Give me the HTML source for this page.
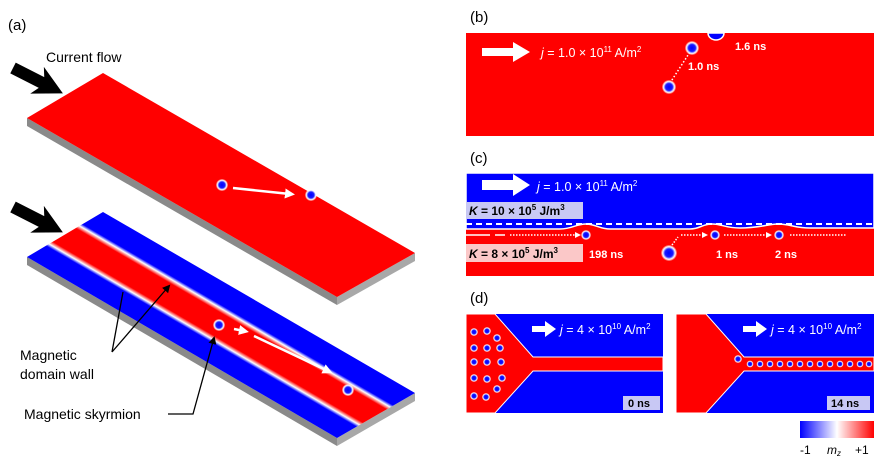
<!DOCTYPE html>
<html><head><meta charset="utf-8"><style>
html,body{margin:0;padding:0;background:#fff;}
svg{display:block;font-family:"Liberation Sans",Arial,sans-serif;}
</style></head><body>
<svg width="877" height="457" viewBox="0 0 877 457" xmlns="http://www.w3.org/2000/svg">
<defs>
<linearGradient id="stripe" gradientUnits="userSpaceOnUse" x1="27" y1="257" x2="65.9" y2="190.3">
<stop offset="0" stop-color="#0000ff"/><stop offset="0.25" stop-color="#0000ff"/>
<stop offset="0.29" stop-color="#fff"/><stop offset="0.34" stop-color="#ff0000"/>
<stop offset="0.64" stop-color="#ff0000"/><stop offset="0.69" stop-color="#fff"/>
<stop offset="0.73" stop-color="#0000ff"/><stop offset="1" stop-color="#0000ff"/>
</linearGradient>
<radialGradient id="sk"><stop offset="0" stop-color="#0000ff"/><stop offset="0.5" stop-color="#1a1aff"/><stop offset="0.78" stop-color="#fff"/><stop offset="1" stop-color="#fff" stop-opacity="0.2"/></radialGradient>
<linearGradient id="cb" x1="0" x2="1"><stop offset="0" stop-color="#0000ff"/><stop offset="0.5" stop-color="#fff"/><stop offset="1" stop-color="#ff0000"/></linearGradient>
<marker id="wa" markerWidth="4" markerHeight="4" refX="2" refY="2" orient="auto"><path d="M0,0L4,2L0,4z" fill="#fff"/></marker>
<marker id="ba" markerWidth="8" markerHeight="8" refX="6" refY="4" orient="auto" markerUnits="userSpaceOnUse"><path d="M0,0L8,4L0,8z" fill="#000"/></marker>
</defs>
<!-- panel a -->
<text x="8" y="30" font-size="15">(a)</text>
<text x="46" y="62" font-size="14">Current flow</text>
<path d="M0,-6 L32,-6 L27,-15 L56,0 L27,15 L32,6 L0,6Z" fill="#000" transform="translate(13,68) rotate(27)"/>
<path d="M27,118 L337,297 L337,305 L27,126Z" fill="#8a8a8a"/>
<path d="M337,297 L415,253 L415,261 L337,305Z" fill="#a8a8a8"/>
<path d="M27,118 L103,73 L415,253 L337,297Z" fill="#ff0000"/>
<circle cx="222" cy="185" r="6" fill="url(#sk)"/>
<circle cx="311" cy="195" r="6" fill="url(#sk)"/>
<line x1="233" y1="188" x2="290" y2="194" stroke="#fff" stroke-width="2.5" marker-end="url(#wa)"/>
<path d="M0,-6 L32,-6 L27,-15 L56,0 L27,15 L32,6 L0,6Z" fill="#000" transform="translate(13,207) rotate(27)"/>
<path d="M27,257 L337,438 L337,446 L27,265Z" fill="#8a8a8a"/>
<path d="M337,438 L415,393 L415,401 L337,446Z" fill="#a8a8a8"/>
<path d="M27,257 L103,212 L415,393 L337,438Z" fill="url(#stripe)"/>
<circle cx="219" cy="325" r="6" fill="url(#sk)"/>
<circle cx="348" cy="390" r="6" fill="url(#sk)"/>
<line x1="234" y1="329" x2="244" y2="331" stroke="#fff" stroke-width="2.5" marker-end="url(#wa)"/>
<line x1="254" y1="336" x2="328" y2="371" stroke="#fff" stroke-width="2.5" marker-end="url(#wa)"/>
<path d="M112,352 L123,292 M112,352 L169,286" stroke="#000" stroke-width="1.3" fill="none" marker-end="url(#ba)"/>
<path d="M168,414 L193,414 L214,338" stroke="#000" stroke-width="1.3" fill="none" marker-end="url(#ba)"/>
<text x="20" y="360" font-size="14">Magnetic</text>
<text x="20" y="379" font-size="14">domain wall</text>
<text x="24" y="419" font-size="14">Magnetic skyrmion</text>
<!-- panel b -->
<text x="470" y="22" font-size="15">(b)</text>
<rect x="466" y="33" width="408" height="103" fill="#ff0000"/>
<path d="M482,48 L513,48 L513,42 L530,52 L513,62 L513,56 L482,56Z" fill="#fff"/>
<text x="541" y="57" font-size="12.5" fill="#fff"><tspan font-style="italic">j</tspan> = 1.0 × 10<tspan font-size="8" dy="-5">11</tspan><tspan dy="5"> A/m</tspan><tspan font-size="8" dy="-5">2</tspan></text>
<line x1="670" y1="83" x2="690" y2="52" stroke="#fff" stroke-width="1.5" stroke-dasharray="1.5,2"/>
<circle cx="669" cy="87" r="7" fill="url(#sk)"/>
<circle cx="692" cy="48" r="7" fill="url(#sk)"/>
<path d="M708,33 A8,7 0 0 0 724,33Z" fill="#0000ff" stroke="#fff" stroke-width="1.5"/>
<text x="688" y="70" font-size="11" font-weight="bold" fill="#fff">1.0 ns</text>
<text x="735" y="50" font-size="11" font-weight="bold" fill="#fff">1.6 ns</text>
<!-- panel c -->
<text x="470" y="163" font-size="15">(c)</text>
<rect x="466" y="173" width="408" height="103" fill="#ff0000"/>
<path d="M466,173 L874,173 L874,228 L810,228 C795,228 790,224 778,224 C768,224 760,228 740,228 C725,228 722,224 712,224 C702,224 700,229 690,229 L610,229 C600,229 595,224 586,224 C576,224 572,229 560,229 L466,229Z" fill="#0000ff" stroke="#fff" stroke-width="1.5"/>
<line x1="466" y1="224" x2="874" y2="224" stroke="#fff" stroke-width="2" stroke-dasharray="6,4"/>
<path d="M482,180 L513,180 L513,174 L530,185 L513,196 L513,190 L482,190Z" fill="#fff"/>
<text x="537" y="191" font-size="12.5" fill="#fff"><tspan font-style="italic">j</tspan> = 1.0 × 10<tspan font-size="8" dy="-5">11</tspan><tspan dy="5"> A/m</tspan><tspan font-size="8" dy="-5">2</tspan></text>
<rect x="466" y="202" width="117" height="17" fill="#c8c8f4"/>
<text x="469" y="215" font-size="12" font-weight="bold"><tspan font-style="italic">K</tspan> = 10 × 10<tspan font-size="8" dy="-5">5</tspan><tspan dy="5"> J/m</tspan><tspan font-size="8" dy="-5">3</tspan></text>
<rect x="466" y="244" width="117" height="18" fill="#fbc8c8"/>
<text x="469" y="258" font-size="12" font-weight="bold"><tspan font-style="italic">K</tspan> = 8 × 10<tspan font-size="8" dy="-5">5</tspan><tspan dy="5"> J/m</tspan><tspan font-size="8" dy="-5">3</tspan></text>
<line x1="466" y1="235" x2="490" y2="235" stroke="#fff" stroke-width="1.5"/>
<line x1="495" y1="235" x2="505" y2="235" stroke="#fff" stroke-width="1.5"/>
<line x1="510" y1="235" x2="578" y2="235" stroke="#fff" stroke-width="1.5" stroke-dasharray="1.5,1.5" marker-end="url(#wa)"/>
<line x1="681" y1="235" x2="705" y2="235" stroke="#fff" stroke-width="1.5" stroke-dasharray="1.5,1.5" marker-end="url(#wa)"/>
<line x1="672" y1="245" x2="678" y2="237" stroke="#fff" stroke-width="1.5" stroke-dasharray="1.5,1.5"/>
<line x1="724" y1="235" x2="769" y2="235" stroke="#fff" stroke-width="1.5" stroke-dasharray="1.5,1.5" marker-end="url(#wa)"/>
<line x1="790" y1="235" x2="846" y2="235" stroke="#fff" stroke-width="1.5" stroke-dasharray="1.5,1.5"/>
<circle cx="586" cy="235" r="5" fill="url(#sk)"/>
<circle cx="715" cy="235" r="5" fill="url(#sk)"/>
<circle cx="779" cy="235" r="5" fill="url(#sk)"/>
<circle cx="669" cy="253" r="8" fill="url(#sk)"/>
<text x="589" y="258" font-size="11" font-weight="bold" fill="#fff">198 ns</text>
<text x="716" y="258" font-size="11" font-weight="bold" fill="#fff">1 ns</text>
<text x="775" y="258" font-size="11" font-weight="bold" fill="#fff">2 ns</text>
<!-- panel d -->
<text x="470" y="303" font-size="15">(d)</text>
<rect x="466" y="314" width="197" height="99" fill="#0000ff"/>
<path d="M466,314 L495,314 L533,357 L663,357 L663,371 L533,371 L495,413 L466,413Z" fill="#ff0000" stroke="#fff" stroke-width="1"/>
<rect x="676" y="314" width="198" height="99" fill="#0000ff"/>
<path d="M676,314 L706,314 L744,357 L874,357 L874,371 L744,371 L706,413 L676,413Z" fill="#ff0000" stroke="#fff" stroke-width="1"/>
<g fill="url(#sk)">
<circle cx="474" cy="332" r="4"/><circle cx="487" cy="331" r="4"/><circle cx="497" cy="338" r="4"/>
<circle cx="474" cy="348" r="4"/><circle cx="487" cy="348" r="4"/><circle cx="500" cy="348" r="4"/>
<circle cx="474" cy="362" r="4"/><circle cx="487" cy="362" r="4"/><circle cx="501" cy="362" r="4"/>
<circle cx="474" cy="378" r="4"/><circle cx="487" cy="379" r="4"/><circle cx="502" cy="378" r="4"/>
<circle cx="474" cy="396" r="4"/><circle cx="486" cy="397" r="4"/><circle cx="497" cy="389" r="4"/>
<circle cx="738" cy="359" r="4"/>
<circle cx="750" cy="364" r="3.5"/><circle cx="760" cy="364" r="3.5"/><circle cx="770" cy="364" r="3.5"/><circle cx="780" cy="364" r="3.5"/><circle cx="790" cy="364" r="3.5"/><circle cx="800" cy="364" r="3.5"/><circle cx="810" cy="364" r="3.5"/><circle cx="820" cy="364" r="3.5"/><circle cx="830" cy="364" r="3.5"/><circle cx="840" cy="364" r="3.5"/><circle cx="850" cy="364" r="3.5"/><circle cx="860" cy="364" r="3.5"/><circle cx="869" cy="364" r="3.5"/>
</g>
<path d="M532,326 L545,326 L545,321 L556,329 L545,337 L545,332 L532,332Z" fill="#fff"/>
<text x="560" y="334" font-size="12.5" fill="#fff"><tspan font-style="italic">j</tspan> = 4 × 10<tspan font-size="8" dy="-5">10</tspan><tspan dy="5"> A/m</tspan><tspan font-size="8" dy="-5">2</tspan></text>
<path d="M743,326 L756,326 L756,321 L767,329 L756,337 L756,332 L743,332Z" fill="#fff"/>
<text x="771" y="334" font-size="12.5" fill="#fff"><tspan font-style="italic">j</tspan> = 4 × 10<tspan font-size="8" dy="-5">10</tspan><tspan dy="5"> A/m</tspan><tspan font-size="8" dy="-5">2</tspan></text>
<rect x="623" y="396" width="37" height="14" fill="#c8c8f4"/>
<text x="628" y="407" font-size="11" font-weight="bold">0 ns</text>
<rect x="827" y="396" width="43" height="14" fill="#c8c8f4"/>
<text x="831" y="407" font-size="11" font-weight="bold">14 ns</text>
<rect x="800" y="421" width="74" height="17" fill="url(#cb)"/>
<text x="800" y="454" font-size="12">-1</text>
<text x="827" y="454" font-size="12" font-style="italic">m<tspan font-size="8" dy="2">z</tspan></text>
<text x="855" y="454" font-size="12">+1</text>
</svg>
</body></html>
